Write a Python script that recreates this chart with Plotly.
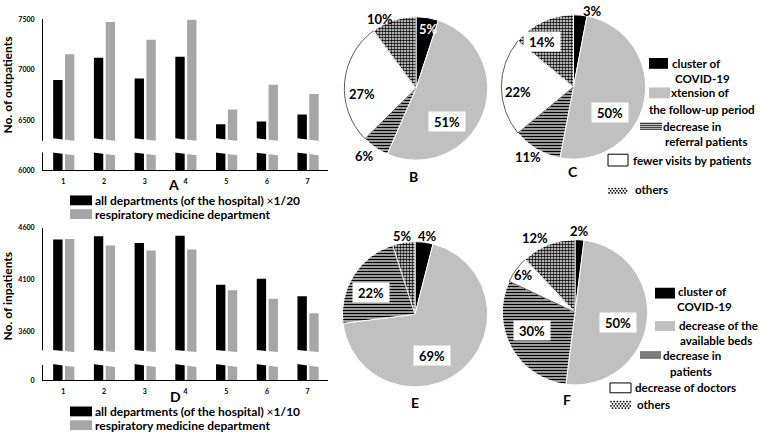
import plotly.graph_objects as go

W, H = 763, 438
FONT = "Lato"

# ---------------- data ----------------
months = [1, 2, 3, 4, 5, 6, 7]
month_labels = ["1", "2", "3", "4", "5", "6", "7"]

outpt_all_x20 = [6900, 7121, 6914, 7130, 6458, 6485, 6556]
outpt_resp = [7156, 7477, 7300, 7500, 6606, 6851, 6760]
out_tickvals = [6000, 6500, 7000, 7500]
out_ticktext = ["6000", "6500", "7000", "7500"]

inpt_all_x10 = [4484, 4515, 4452, 4521, 4048, 4105, 3937]
inpt_resp = [4490, 4427, 4379, 4389, 3994, 3912, 3773]
in_tickvals = [3126, 3600, 4100, 4600]
in_ticktext = ["0", "3600", "4100", "4600"]

out_reasons = ["cluster of COVID-19", "extension of the follow-up period",
               "decrease in referral patients", "fewer visits by patients", "others"]
B_pct = [5, 51, 6, 27, 10]
C_pct = [3, 50, 11, 22, 14]
in_reasons = ["cluster of COVID-19", "decrease of the available beds",
              "decrease in patients", "decrease of doctors", "others"]
E_pct = [4, 69, 22, 0, 5]
F_pct = [2, 50, 30, 6, 12]

# ---------------- style ----------------
BAR_GRAY = "#a6a6a6"
PIE_GRAY = "#c0c0c0"
slice_colors = ["black", PIE_GRAY, "white", "white", "white"]
slice_patterns = ["", "", "-", "", "."]
slice_line_col = ["white", "white", "white", "#333333", "white"]
slice_line_w = [1, 1, 1, 0.8, 1]


def px(x):
    return x / W


def py(y):
    return 1 - y / H


fig = go.Figure()

# ---------------- bar panels ----------------
for vals, col, off, xa, ya in [
    (outpt_all_x20, "black", -0.25, "x", "y"),
    (outpt_resp, BAR_GRAY, 0.04, "x", "y"),
    (inpt_all_x10, "black", -0.25, "x2", "y2"),
    (inpt_resp, BAR_GRAY, 0.04, "x2", "y2"),
]:
    fig.add_trace(go.Bar(x=months, y=vals, marker=dict(color=col, line=dict(width=0)),
                         width=0.23, offset=off, xaxis=xa, yaxis=ya,
                         showlegend=False, hoverinfo="skip"))

tickfont = dict(family=FONT, size=7, color="black", weight="bold")
xcommon = dict(range=[0.5, 7.5], tickvals=months, ticktext=month_labels, showgrid=False,
               zeroline=False, showline=True, linecolor="black", linewidth=1, ticks="",
               tickfont=tickfont, ticklabelstandoff=4, fixedrange=True)
ycommon = dict(showgrid=False, zeroline=False, showline=True, linecolor="black",
               linewidth=1, ticks="", tickfont=tickfont, ticklabelstandoff=6, fixedrange=True)

fig.update_layout(
    xaxis=dict(domain=[px(43), px(328)], anchor="y", **xcommon),
    yaxis=dict(domain=[py(168.3), py(14.5)], anchor="x", range=[6000, 7505],
               tickvals=out_tickvals, ticktext=out_ticktext, **ycommon),
    xaxis2=dict(domain=[px(43), px(328)], anchor="y2", **xcommon),
    yaxis2=dict(domain=[py(382.3), py(226.7)], anchor="x2", range=[3126, 4600],
                tickvals=in_tickvals, ticktext=in_ticktext, **ycommon),
)

shapes = []
# axis breaks (white slanted bands)
for m in months:
    shapes.append(dict(type="path", xref="x", yref="y", layer="above",
                       path=f"M {m-0.32},6322 L {m+0.32},6292 L {m+0.32},6148 L {m-0.32},6178 Z",
                       fillcolor="white", line=dict(width=0)))
    shapes.append(dict(type="path", xref="x2", yref="y2", layer="above",
                       path=f"M {m-0.32},3420 L {m+0.32},3398 L {m+0.32},3252 L {m-0.32},3285 Z",
                       fillcolor="white", line=dict(width=0)))
shapes.append(dict(type="rect", xref="paper", yref="y", x0=px(39), x1=px(47), y0=6176, y1=6294,
                   fillcolor="white", line=dict(width=0), layer="above"))
shapes.append(dict(type="rect", xref="paper", yref="y2", x0=px(39), x1=px(47), y0=3274, y1=3416,
                   fillcolor="white", line=dict(width=0), layer="above"))

# ---------------- pies ----------------
pie_domains = {
    "B": ([343, 489], [12, 158]),
    "C": ([500, 647], [10, 157]),
    "E": ([341, 489], [241, 389]),
    "F": ([501, 649], [239, 387]),
}
for key, vals, labels in [("B", B_pct, out_reasons), ("C", C_pct, out_reasons),
                          ("E", E_pct, in_reasons), ("F", F_pct, in_reasons)]:
    (x0, x1), (y0, y1) = pie_domains[key]
    fig.add_trace(go.Pie(
        values=vals, labels=labels, sort=False, direction="clockwise", rotation=0,
        textinfo="none", hoverinfo="skip", showlegend=False,
        domain=dict(x=[px(x0), px(x1)], y=[py(y1), py(y0)]),
        marker=dict(colors=slice_colors,
                    pattern=dict(shape=slice_patterns, fgcolor="black", bgcolor="white",
                                 size=3, solidity=0.6),
                    line=dict(color=slice_line_col, width=slice_line_w)),
    ))

annotations = []


def txt(s, x, y, size=12, xanchor="center", color="black", bg=None, angle=0, w=None, h=None):
    a = dict(text=s, x=px(x), y=py(y), xref="paper", yref="paper", showarrow=False,
             xanchor=xanchor, yanchor="middle", textangle=angle,
             font=dict(family=FONT, size=size, color=color, weight="bold"))
    if bg:
        a.update(bgcolor=bg, borderpad=1)
    if w:
        a.update(width=w, height=h)
    annotations.append(a)


# axis titles and panel letters
txt("No. of outpatients", 8, 82, size=12, angle=-90)
txt("No. of inpatients", 8, 297, size=12, angle=-90)
for letter, x, y in [("A", 173, 183), ("B", 413, 175), ("C", 573, 170),
                     ("D", 175, 399), ("E", 415, 405), ("F", 567, 402)]:
    txt(letter, x, y, size=14)

# bar legends
for (ya, yb, mult) in [(199, 213, "1/20"), (414, 428, "1/10")]:
    shapes.append(dict(type="rect", xref="paper", yref="paper", x0=px(70), x1=px(92),
                       y0=py(ya + 5), y1=py(ya - 5), fillcolor="black", line=dict(width=0)))
    shapes.append(dict(type="rect", xref="paper", yref="paper", x0=px(70), x1=px(92),
                       y0=py(yb + 5), y1=py(yb - 5), fillcolor=BAR_GRAY, line=dict(width=0)))
    txt(f"all departments (of the hospital) <span style='font-weight:normal'>×</span>{mult}",
        93, ya, size=12, xanchor="left")
    txt("respiratory medicine department", 93, yb, size=12, xanchor="left")

# pie percentage labels
pie_labels = [
    ("10%", 380, 14, None, "black"), ("5%", 428, 24, None, "white"), ("27%", 362, 91, None, "black"),
    ("51%", 447, 119, "white", "black"), ("6%", 364, 154, None, "black"),
    ("3%", 592, 6, None, "black"), ("14%", 542, 37, "white", "black"), ("22%", 518, 89, None, "black"),
    ("50%", 610, 110, "white", "black"), ("11%", 528, 155, None, "black"),
    ("5%", 402, 235, None, "black"), ("4%", 427, 235, None, "black"),
    ("22%", 371, 293, "white", "black"), ("69%", 432, 357, "white", "black"),
    ("2%", 579, 230, None, "black"), ("12%", 535, 237, None, "black"), ("6%", 523, 275, None, "black"),
    ("30%", 532, 332, "white", "black"), ("50%", 618, 323, "white", "black"),
]
for s, x, y, bg, c in pie_labels:
    if bg:
        txt(s, x, y, size=13, color=c, bg=bg, w=34, h=17)
    else:
        txt(s, x, y, size=13, color=c)


# pie legends
def swatch(kind, x0, y0, x1, y1):
    if kind == "black":
        shapes.append(dict(type="rect", xref="paper", yref="paper", x0=px(x0), x1=px(x1),
                           y0=py(y1), y1=py(y0), fillcolor="black", line=dict(width=0)))
    elif kind == "gray":
        shapes.append(dict(type="rect", xref="paper", yref="paper", x0=px(x0), x1=px(x1),
                           y0=py(y1), y1=py(y0), fillcolor=PIE_GRAY, line=dict(width=0)))
    elif kind == "white":
        shapes.append(dict(type="rect", xref="paper", yref="paper", x0=px(x0), x1=px(x1),
                           y0=py(y1), y1=py(y0), fillcolor="white",
                           line=dict(color="black", width=1)))
    elif kind == "stripes":
        yy = y0 + 0.5
        while yy <= y1:
            shapes.append(dict(type="line", xref="paper", yref="paper", x0=px(x0), x1=px(x1),
                               y0=py(yy), y1=py(yy), line=dict(color="black", width=1)))
            yy += 2
    elif kind == "dots":
        r = 0.9
        row = 0
        yy = y0 + 1
        while yy <= y1:
            xx = x0 + 1 + (1.6 if row % 2 else 0)
            while xx <= x1:
                shapes.append(dict(type="circle", xref="paper", yref="paper",
                                   x0=px(xx - r), x1=px(xx + r), y0=py(yy + r), y1=py(yy - r),
                                   fillcolor="black", line=dict(width=0)))
                xx += 3.2
            yy += 2.2
            row += 1


LS = 11.6
# B / C legend
swatch("black", 649, 54, 668, 65)
txt("cluster of", 670, 60, size=LS, xanchor="left")
txt("COVID-19", 702, 75, size=LS)
swatch("gray", 649, 84, 670, 95)
txt("xtension of", 669, 89, size=LS, xanchor="left")
txt("the follow-up period", 702, 106, size=LS)
swatch("stripes", 640, 120, 662, 128)
txt("decrease in", 661, 124, size=LS, xanchor="left")
txt("referral patients", 706, 139, size=LS)
swatch("white", 608, 152, 628, 164)
txt("fewer visits by patients", 631, 158, size=LS, xanchor="left")
swatch("dots", 608, 186, 628, 193)
txt("others", 633, 188, size=LS, xanchor="left")

# E / F legend
swatch("black", 655, 288, 675, 299)
txt("cluster of", 676, 292, size=LS, xanchor="left")
txt("COVID-19", 704, 307, size=LS)
swatch("gray", 655, 322, 675, 332)
txt("decrease of the", 677, 326, size=LS, xanchor="left")
txt("available beds", 716, 342, size=LS)
swatch("stripes", 640, 353, 661, 361)
txt("decrease in", 661, 357, size=LS, xanchor="left")
txt("patients", 691, 373, size=LS)
swatch("white", 610, 385, 631, 395)
txt("decrease of doctors", 633, 390, size=LS, xanchor="left")
swatch("dots", 610, 403, 631, 412)
txt("others", 635, 407, size=LS, xanchor="left")

fig.update_layout(
    width=W, height=H, margin=dict(l=0, r=0, t=0, b=0),
    paper_bgcolor="white", plot_bgcolor="white",
    shapes=shapes, annotations=annotations,
    barmode="overlay",
    font=dict(family=FONT, color="black"),
)

fig.write_html("out.html", config={"displayModeBar": False},
               post_script="document.body.style.margin='0px';document.body.style.overflow='hidden';")
